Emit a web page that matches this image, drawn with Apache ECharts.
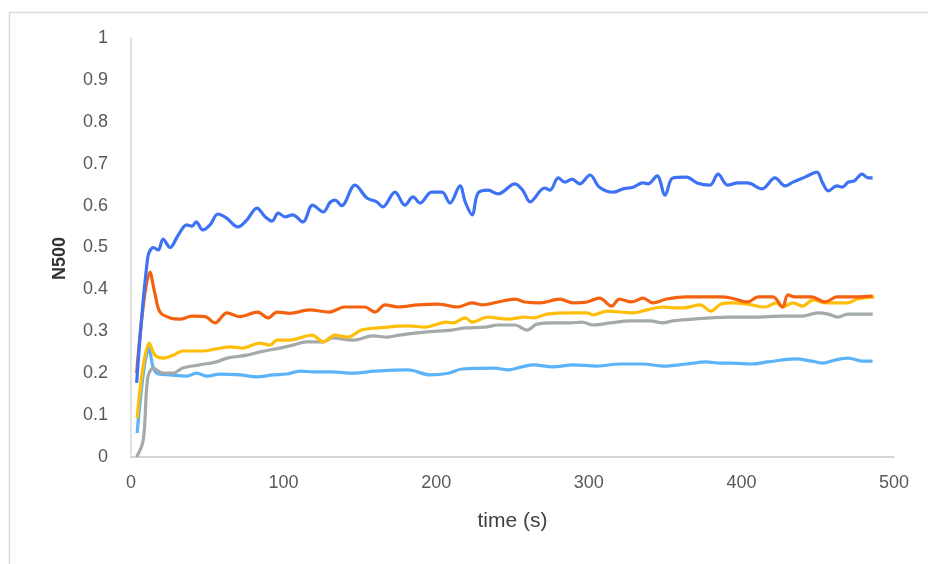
<!DOCTYPE html>
<html>
<head>
<meta charset="utf-8">
<script src="https://cdn.jsdelivr.net/npm/echarts@6/dist/echarts.min.js"></script>
<style>
html,body{margin:0;padding:0;background:#fff;}
#chart{width:928px;height:564px;}
</style>
</head>
<body>
<div id="chart"></div>
<script>
// time (s) and N500 values per series
var timeBlue = [3.7,11,14.7,17.9,21,25.6,31,36.5,40,42.7,47,51.8,57,62.7,70,76,82.5,88,92.4,96.5,101,106,112.6,119,126,130.5,133.7,138,146.8,154.6,161,165,173,179.5,184.8,189.4,197,203.8,209,215.6,219,223.5,227.4,234,240.5,251.6,257,261.5,271,274.6,280,284.4,289,294,300.8,307,316,322.4,329,335.5,338.8,344.7,350,355,364,371,379.4,384.7,391,397.8,404,413.5,422,428.6,433.8,441.7,449.5,453,457,462.6,466,470,474,479,483,486];
var valBlue = [0.177,0.477,0.5,0.494,0.52,0.50,0.53,0.554,0.551,0.561,0.542,0.554,0.58,0.57,0.549,0.566,0.594,0.573,0.563,0.582,0.573,0.578,0.561,0.601,0.585,0.608,0.613,0.60,0.649,0.618,0.609,0.597,0.632,0.601,0.621,0.606,0.632,0.632,0.606,0.647,0.609,0.578,0.63,0.637,0.628,0.652,0.635,0.609,0.642,0.637,0.666,0.656,0.663,0.652,0.673,0.644,0.632,0.64,0.644,0.654,0.652,0.671,0.625,0.666,0.668,0.654,0.649,0.675,0.649,0.654,0.654,0.64,0.666,0.647,0.656,0.668,0.68,0.656,0.635,0.647,0.644,0.656,0.659,0.675,0.666,0.666];

var timeOrange = [3.7,12.5,15.7,19,25.6,32,40,48.5,55,62.9,71.4,83,89.8,95.7,104,117,130,140,153,160,166.5,175,188,201,214,223.5,230,240.5,251.6,258,268,281,289.6,298.8,307,315,320,328,335.5,342,351,364,377,386,393.8,404,411,420.7,427,430.5,435,446,454.8,462.6,474.5,486];
var valOrange = [0.2,0.441,0.39,0.346,0.332,0.329,0.336,0.335,0.32,0.344,0.335,0.346,0.332,0.346,0.343,0.351,0.346,0.358,0.358,0.346,0.363,0.358,0.363,0.365,0.358,0.368,0.363,0.37,0.377,0.37,0.368,0.377,0.368,0.37,0.379,0.36,0.377,0.37,0.379,0.368,0.377,0.382,0.382,0.382,0.379,0.37,0.382,0.382,0.358,0.387,0.382,0.382,0.37,0.382,0.382,0.384];

var timeGray = [3.7,8,11,14.7,21,27.5,33.6,45,56,63,76,84.5,97.6,106,115,126,132,145.5,158.6,167.8,176,192.7,210,219,232,240.5,251.6,259.5,266,276.5,287.7,295.5,302.7,314,327,340,348.6,355,368,379.4,391,409,426.6,439.7,450,457,463,470,486];
var valGray = [0,0.04,0.19,0.212,0.2,0.2,0.212,0.22,0.227,0.236,0.243,0.251,0.26,0.267,0.275,0.275,0.284,0.279,0.289,0.286,0.291,0.298,0.303,0.308,0.31,0.315,0.315,0.303,0.317,0.32,0.32,0.322,0.315,0.32,0.325,0.325,0.32,0.325,0.329,0.332,0.334,0.334,0.336,0.336,0.344,0.341,0.334,0.341,0.341];

var timeYellow = [4,12,15.7,21,27.5,34,47,56,65,73,84.5,91,95.7,104,118.6,126,133.7,142,151,162,181.5,192.7,199,206,211,219,223.5,234,247,258,263.7,272.6,287.7,298.8,302.7,312,329,338,348.6,355,361.7,373,380,386.6,393.8,404,415.5,423,427,434,440,447,454.8,461,470,476,487];
var valYellow = [0.093,0.272,0.243,0.236,0.243,0.253,0.253,0.258,0.263,0.26,0.272,0.267,0.279,0.279,0.291,0.275,0.291,0.286,0.303,0.308,0.313,0.31,0.315,0.322,0.32,0.332,0.322,0.334,0.329,0.334,0.332,0.341,0.344,0.344,0.339,0.348,0.344,0.351,0.358,0.356,0.356,0.363,0.348,0.365,0.368,0.365,0.358,0.368,0.358,0.368,0.36,0.375,0.368,0.368,0.368,0.377,0.382];

var timeLight = [4,11.8,14.7,18,25.6,36.5,43,50,58,71.4,82.5,93,102,111,119,132,145.5,160,181.5,196,208,217,238.5,247,256,263.7,276.5,289.6,305.4,320.4,335.5,348.6,364,377,386,394,407,417.4,435,446,453.5,461,470,479,486];
var valLight = [0.057,0.26,0.212,0.198,0.196,0.193,0.2,0.193,0.198,0.196,0.191,0.196,0.198,0.205,0.203,0.203,0.2,0.205,0.208,0.196,0.2,0.21,0.212,0.208,0.215,0.22,0.215,0.22,0.217,0.222,0.222,0.217,0.222,0.227,0.224,0.224,0.222,0.227,0.234,0.229,0.224,0.231,0.236,0.229,0.229];

var xTitle = 'time (s)';
var yTitle = 'N500';

function pairs(t, v) { return t.map(function (x, i) { return [x, v[i]]; }); }

var FONT = "'Liberation Sans', Arial, sans-serif";

function line(name, t, v, color, z) {
  return {
    name: name, type: 'line', data: pairs(t, v), smooth: 0.35,
    showSymbol: false, symbol: 'none', z: z,
    lineStyle: { color: color, width: 3.2 }
  };
}

var chart = echarts.init(document.getElementById('chart'));
chart.setOption({
  backgroundColor: '#ffffff',
  animation: false,
  graphic: [{
    type: 'rect', left: 7, top: 10, silent: true,
    shape: { width: 960, height: 600 },
    style: { fill: 'none', stroke: '#D9D9D9', lineWidth: 1.5 }
  }],
  grid: { left: 131, right: 34, top: 38, bottom: 107 },
  xAxis: {
    type: 'value', min: 0, max: 500, interval: 100,
    name: xTitle, nameLocation: 'middle', nameGap: 54,
    nameTextStyle: { fontFamily: FONT, fontSize: 21, color: '#404040' },
    axisLine: { show: true, lineStyle: { color: '#C8C8C8', width: 1.5 } },
    axisTick: { show: false },
    splitLine: { show: false },
    axisLabel: { fontFamily: FONT, fontSize: 18, color: '#595959', margin: 17 }
  },
  yAxis: {
    type: 'value', min: 0, max: 1, interval: 0.1,
    name: yTitle, nameLocation: 'middle', nameGap: 62, nameRotate: 90,
    nameTextStyle: { fontFamily: FONT, fontSize: 18, color: '#333333', fontWeight: 'bold',
      padding: [0, 22, 0, 0] },
    axisLine: { show: true, lineStyle: { color: '#D9D9D9', width: 1.5 } },
    axisTick: { show: false },
    splitLine: { show: false },
    axisLabel: { fontFamily: FONT, fontSize: 18, color: '#595959', margin: 23,
      formatter: function (v) { return String(Math.round(v * 10) / 10); } }
  },
  series: [
    line('S1', timeBlue, valBlue, '#3D72F5', 5),
    line('S2', timeOrange, valOrange, '#F5620F', 4),
    line('S3', timeGray, valGray, '#A3AAA9', 2),
    line('S4', timeYellow, valYellow, '#FFBE0A', 3),
    line('S5', timeLight, valLight, '#5CB3F7', 1)
  ]
});
</script>
</body>
</html>
